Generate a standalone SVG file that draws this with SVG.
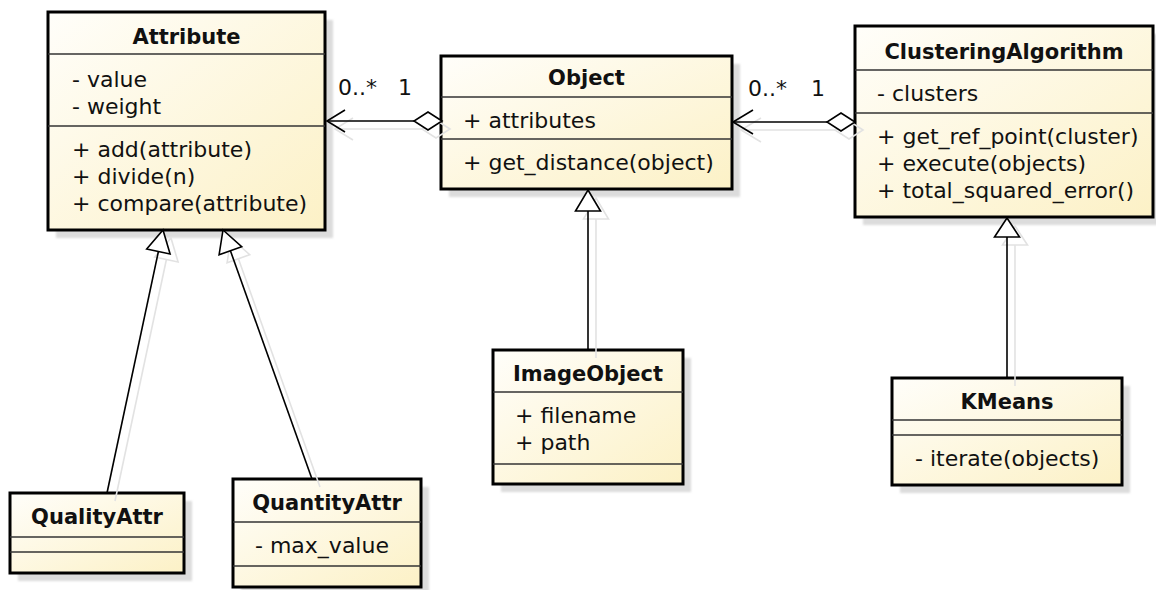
<svg xmlns="http://www.w3.org/2000/svg" width="1156" height="590" viewBox="0 0 1156 590">
  <defs>
    <linearGradient id="classFill" x1="0" y1="0" x2="1" y2="1">
      <stop offset="0" stop-color="#fffefa"/>
      <stop offset="1" stop-color="#fcf1c6"/>
    </linearGradient>
    <filter id="soft" x="-5%" y="-5%" width="110%" height="110%">
      <feGaussianBlur stdDeviation="1"/>
    </filter>
    <style>
      .shadow { fill: #dcdcdc; filter: url(#soft); }
      .box { fill: url(#classFill); stroke: #000; stroke-width: 3; }
      .sep { stroke: #333; stroke-width: 1.5; }
      .title { font-family: "DejaVu Sans", sans-serif; font-size: 21px; font-weight: bold; fill: #111; text-anchor: middle; }
      .member { font-family: "DejaVu Sans", sans-serif; font-size: 22px; fill: #111; }
      .mult { font-family: "DejaVu Sans", sans-serif; font-size: 22px; fill: #111; }
      .line { stroke: #000; stroke-width: 1.6; fill: none; }
      .lineShadow { stroke: #e2e2e2; stroke-width: 1.6; fill: none; }
      .head { stroke: #000; stroke-width: 1.6; fill: #fff; stroke-linejoin: miter; }
      .headShadow { stroke: #e2e2e2; stroke-width: 1.6; fill: none; }
    </style>
  </defs>
  <rect width="1156" height="590" fill="#fff"/>

  <!-- drop shadows behind the class boxes -->
  <g id="shadows">
    <rect class="shadow" x="56" y="20" width="277" height="218"/>
    <rect class="shadow" x="449" y="64" width="291" height="133"/>
    <rect class="shadow" x="863" y="34" width="298" height="191"/>
    <rect class="shadow" x="18" y="501" width="174" height="80"/>
    <rect class="shadow" x="241" y="487" width="188" height="108"/>
    <rect class="shadow" x="501" y="358" width="190" height="134"/>
    <rect class="shadow" x="900" y="386" width="230" height="107"/>
  </g>

  <g id="Attribute">
    <rect class="box" x="48" y="12" width="277" height="218"/>
    <line class="sep" x1="48" y1="54" x2="325" y2="54"/>
    <line class="sep" x1="48" y1="126" x2="325" y2="126"/>
    <text class="title" x="186.5" y="44">Attribute</text>
    <text class="member" x="72" y="87">- value</text>
    <text class="member" x="72" y="114">- weight</text>
    <text class="member" x="72" y="157">+ add(attribute)</text>
    <text class="member" x="72" y="184">+ divide(n)</text>
    <text class="member" x="72" y="211">+ compare(attribute)</text>
  </g>

  <g id="Object">
    <rect class="box" x="441" y="56" width="291" height="133"/>
    <line class="sep" x1="441" y1="97" x2="732" y2="97"/>
    <line class="sep" x1="441" y1="139" x2="732" y2="139"/>
    <text class="title" x="586.5" y="85">Object</text>
    <text class="member" x="463" y="128">+ attributes</text>
    <text class="member" x="463" y="170">+ get_distance(object)</text>
  </g>

  <g id="ClusteringAlgorithm">
    <rect class="box" x="855" y="26" width="298" height="191"/>
    <line class="sep" x1="855" y1="70" x2="1153" y2="70"/>
    <line class="sep" x1="855" y1="113" x2="1153" y2="113"/>
    <text class="title" x="1004" y="59">ClusteringAlgorithm</text>
    <text class="member" x="877" y="101">- clusters</text>
    <text class="member" x="877" y="144">+ get_ref_point(cluster)</text>
    <text class="member" x="877" y="171">+ execute(objects)</text>
    <text class="member" x="877" y="198">+ total_squared_error()</text>
  </g>

  <g id="QualityAttr">
    <rect class="box" x="10" y="493" width="174" height="80"/>
    <line class="sep" x1="10" y1="537" x2="184" y2="537"/>
    <line class="sep" x1="10" y1="552" x2="184" y2="552"/>
    <text class="title" x="97" y="524">QualityAttr</text>
  </g>

  <g id="QuantityAttr">
    <rect class="box" x="233" y="479" width="188" height="108"/>
    <line class="sep" x1="233" y1="522" x2="421" y2="522"/>
    <line class="sep" x1="233" y1="566" x2="421" y2="566"/>
    <text class="title" x="327" y="510">QuantityAttr</text>
    <text class="member" x="255" y="553">- max_value</text>
  </g>

  <g id="ImageObject">
    <rect class="box" x="493" y="350" width="190" height="134"/>
    <line class="sep" x1="493" y1="392" x2="683" y2="392"/>
    <line class="sep" x1="493" y1="464" x2="683" y2="464"/>
    <text class="title" x="588" y="381">ImageObject</text>
    <text class="member" x="515" y="423">+ filename</text>
    <text class="member" x="515" y="450">+ path</text>
  </g>

  <g id="KMeans">
    <rect class="box" x="892" y="378" width="230" height="107"/>
    <line class="sep" x1="892" y1="420" x2="1122" y2="420"/>
    <line class="sep" x1="892" y1="435" x2="1122" y2="435"/>
    <text class="title" x="1007" y="409">KMeans</text>
    <text class="member" x="915" y="466">- iterate(objects)</text>
  </g>

  <!-- connectors: faint offset copies first, then the lines themselves -->
  <g id="connectors">
    <g id="connector-shadows" transform="translate(8,8)">
      <line class="lineShadow" x1="327" y1="121" x2="414" y2="121"/>
      <polyline class="lineShadow" points="345,110 327,121 345,132"/>
      <polygon class="headShadow" points="442,121 428,112 414,121 428,130"/>
      <line class="lineShadow" x1="733" y1="122" x2="827" y2="122"/>
      <polyline class="lineShadow" points="753,110 733,122 753,134"/>
      <polygon class="headShadow" points="855,122 841,113 827,122 841,131"/>
      <line class="lineShadow" x1="107" y1="493" x2="158.4" y2="251.5"/>
      <polygon class="headShadow" points="163,230 170.1,254 146.7,249"/>
      <line class="lineShadow" x1="312" y1="479" x2="230.4" y2="250.7"/>
      <polygon class="headShadow" points="223,230 241.7,246.7 219.1,254.7"/>
      <line class="lineShadow" x1="588" y1="211" x2="588" y2="350"/>
      <polygon class="headShadow" points="588,190 600.5,211 575.5,211"/>
      <line class="lineShadow" x1="1007" y1="237" x2="1007" y2="378"/>
      <polygon class="headShadow" points="1007,218 1019.5,237 994.5,237"/>
    </g>

    <!-- Object aggregates Attribute -->
    <line class="line" x1="327" y1="121" x2="414" y2="121"/>
    <polyline class="line" points="345,110 327,121 345,132"/>
    <polygon class="head" points="442,121 428,112 414,121 428,130"/>
    <text class="mult" x="338" y="95">0..*</text>
    <text class="mult" x="398" y="95">1</text>

    <!-- ClusteringAlgorithm aggregates Object -->
    <line class="line" x1="733" y1="122" x2="827" y2="122"/>
    <polyline class="line" points="753,110 733,122 753,134"/>
    <polygon class="head" points="855,122 841,113 827,122 841,131"/>
    <text class="mult" x="748" y="96">0..*</text>
    <text class="mult" x="811" y="96">1</text>

    <!-- generalisations -->
    <line class="line" x1="107" y1="493" x2="158.4" y2="251.5"/>
    <polygon class="head" points="163,230 170.1,254 146.7,249"/>
    <line class="line" x1="312" y1="479" x2="230.4" y2="250.7"/>
    <polygon class="head" points="223,230 241.7,246.7 219.1,254.7"/>
    <line class="line" x1="588" y1="211" x2="588" y2="350"/>
    <polygon class="head" points="588,190 600.5,211 575.5,211"/>
    <line class="line" x1="1007" y1="237" x2="1007" y2="378"/>
    <polygon class="head" points="1007,218 1019.5,237 994.5,237"/>
  </g>
</svg>
